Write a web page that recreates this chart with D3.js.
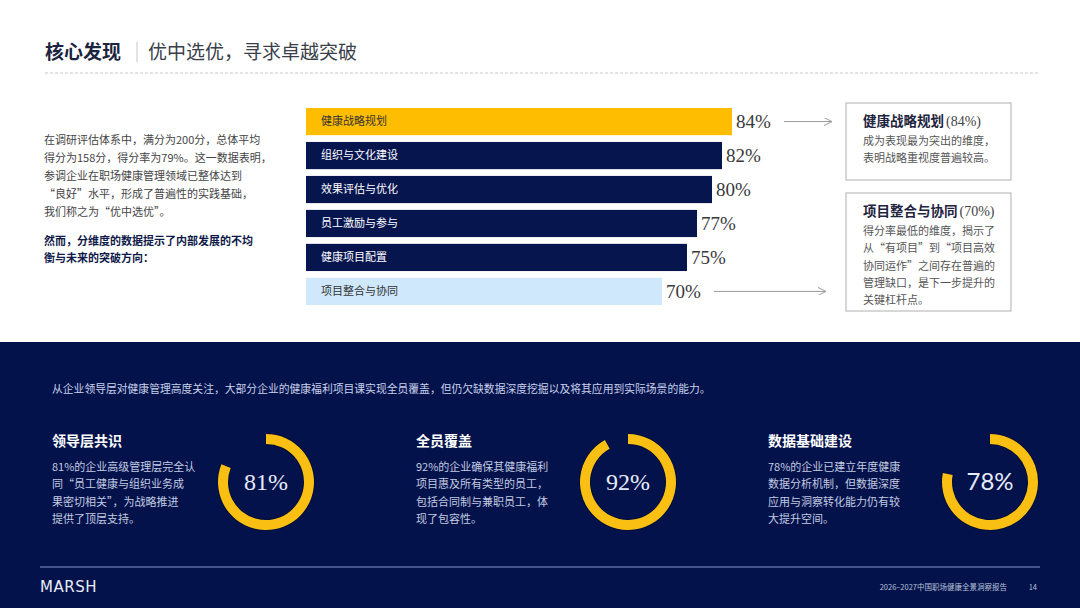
<!DOCTYPE html>
<html>
<head>
<meta charset="utf-8">
<script src="https://cdn.jsdelivr.net/npm/d3@7"></script>
<style>
  html, body { margin: 0; padding: 0; background: #fff; }
  svg { display: block; font-family: "Noto Sans CJK SC", "Noto Sans", sans-serif; }
</style>
</head>
<body>
<div id="chart"></div>
<script>
// dimension scores
const categories = ["健康战略规划", "组织与文化建设", "效果评估与优化", "员工激励与参与", "健康项目配置", "项目整合与协同"];
const scores = [84, 82, 80, 77, 75, 70];

// bottom ring indicators
const ringTitles = ["领导层共识", "全员覆盖", "数据基础建设"];
const ringValues = [81, 92, 78];
const ringTexts = [
    ["81%的企业高级管理层完全认", "同\u201c员工健康与组织业务成", "果密切相关\u201d，为战略推进", "提供了顶层支持。"],
    ["92%的企业确保其健康福利", "项目惠及所有类型的员工，", "包括合同制与兼职员工，体", "现了包容性。"],
    ["78%的企业已建立年度健康", "数据分析机制，但数据深度", "应用与洞察转化能力仍有较", "大提升空间。"]
];

const introLines = ["在调研评估体系中，满分为200分，总体平均", "得分为158分，得分率为79%。这一数据表明，", "参调企业在职场健康管理领域已整体达到", "\u201c良好\u201d水平，形成了普遍性的实践基础，", "我们称之为\u201c优中选优\u201d。"];
const boldLines = ["然而，分维度的数据提示了内部发展的不均", "衡与未来的突破方向："];
const noteTitles = ["健康战略规划", "项目整合与协同"];
const noteValues = [84, 70];
const noteLines = [
    ["成为表现最为突出的维度，", "表明战略重视度普遍较高。"],
    ["得分率最低的维度，揭示了", "从\u201c有项目\u201d到\u201c项目高效", "协同运作\u201d之间存在普遍的", "管理缺口，是下一步提升的", "关键杠杆点。"]
];
const summary = "从企业领导层对健康管理高度关注，大部分企业的健康福利项目课实现全员覆盖，但仍欠缺数据深度挖掘以及将其应用到实际场景的能力。";

const W = 1080, H = 608;
const navy = "#07154f", gold = "#ffbd00", lightBlue = "#cfe8fb";
const serif = "'Liberation Serif', 'DejaVu Serif', serif";

const svg = d3.select("#chart").append("svg")
    .attr("width", W).attr("height", H).attr("viewBox", `0 0 ${W} ${H}`);

// header
svg.append("text").attr("x", 45).attr("y", 59)
    .attr("font-size", 19).attr("font-weight", 700).attr("fill", "#1c2340").text("核心发现");
svg.append("line").attr("x1", 137).attr("x2", 137).attr("y1", 42).attr("y2", 62)
    .attr("stroke", "#c8c8c8").attr("stroke-width", 1);
svg.append("text").attr("x", 148).attr("y", 59)
    .attr("font-size", 19).attr("fill", "#3a3f4a").text("优中选优，寻求卓越突破");
svg.append("line").attr("x1", 45).attr("x2", 1040).attr("y1", 73).attr("y2", 73)
    .attr("stroke", "#c9c9c9").attr("stroke-dasharray", "3,2");

// intro text
svg.append("g").selectAll("text").data(introLines).enter().append("text")
    .attr("x", 44).attr("y", (d, i) => 144 + i * 18)
    .attr("font-size", 11).attr("fill", "#444").text(d => d);
svg.append("g").selectAll("text").data(boldLines).enter().append("text")
    .attr("x", 44).attr("y", (d, i) => 245 + i * 17)
    .attr("font-size", 11).attr("font-weight", 700).attr("fill", "#101a4a").text(d => d);

// bar chart
const barLeft = 306;
const x = d3.scaleLinear().domain([0, 100]).range([312, 812]);
const y = d3.scaleBand().domain(categories).range([108, 305]).paddingInner(0.2).paddingOuter(0);

const barFill = (d, i) => i === 0 ? gold : (i === categories.length - 1 ? lightBlue : navy);
const labelFill = (d, i) => (i === 0 || i === categories.length - 1) ? "#333" : "#fff";

const rows = svg.append("g").selectAll("g.row")
    .data(categories).enter().append("g").attr("class", "row");

rows.append("rect")
    .attr("x", barLeft)
    .attr("y", d => y(d))
    .attr("width", (d, i) => x(scores[i]) - barLeft)
    .attr("height", y.bandwidth())
    .attr("fill", barFill);

rows.append("text")
    .attr("x", barLeft + 15)
    .attr("y", d => y(d) + y.bandwidth() / 2)
    .attr("dy", "0.35em")
    .attr("font-size", 11)
    .attr("fill", labelFill)
    .text(d => d);

rows.append("text")
    .attr("x", (d, i) => x(scores[i]) + 4)
    .attr("y", d => y(d) + y.bandwidth() / 2)
    .attr("dy", "0.35em")
    .attr("font-family", serif)
    .attr("font-size", 19)
    .attr("fill", "#3a3a3a")
    .text((d, i) => scores[i] + "%");

// arrows to notes
const defs = svg.append("defs");
defs.append("marker").attr("id", "arr").attr("viewBox", "0 0 10 10")
    .attr("refX", 10).attr("refY", 5).attr("markerWidth", 8).attr("markerHeight", 8)
    .attr("orient", "auto").attr("markerUnits", "userSpaceOnUse")
    .append("path").attr("d", "M0,0L10,5L0,10").attr("fill", "none").attr("stroke", "#999").attr("stroke-width", 1.2);

const arrowRows = [0, categories.length - 1];
const arrowEnds = [832, 826];
arrowRows.forEach((r, k) => {
    const cy = y(categories[r]) + y.bandwidth() / 2;
    svg.append("line")
        .attr("x1", x(scores[r]) + 52).attr("x2", arrowEnds[k])
        .attr("y1", cy).attr("y2", cy)
        .attr("stroke", "#999").attr("stroke-width", 1)
        .attr("marker-end", "url(#arr)");
});

// note boxes
const boxes = [{ y: 103, h: 77 }, { y: 193, h: 118 }];
boxes.forEach((b, k) => {
    const g = svg.append("g").attr("transform", `translate(846,${b.y})`);
    g.append("rect").attr("width", 165).attr("height", b.h)
        .attr("fill", "#fff").attr("stroke", "#bdbdbd").attr("stroke-width", 1.2);
    const t = g.append("text").attr("x", 17).attr("y", 23).attr("font-size", 13.5).attr("fill", "#1e2440");
    t.append("tspan").attr("font-weight", 700).text(noteTitles[k]);
    t.append("tspan").attr("font-family", serif).attr("font-size", 14).attr("fill", "#444")
        .attr("dx", 2).text(`(${noteValues[k]}%)`);
    g.selectAll("text.line").data(noteLines[k]).enter().append("text")
        .attr("class", "line")
        .attr("x", 17).attr("y", (d, i) => 42 + i * 17.3)
        .attr("font-size", 11).attr("fill", "#555").text(d => d);
});

// dark panel
svg.append("rect").attr("x", 0).attr("y", 342).attr("width", W).attr("height", H - 342).attr("fill", "#03124a");

svg.append("text").attr("x", 52).attr("y", 393).attr("font-size", 10.8)
    .attr("fill", "#c9d1ec").text(summary);

const colX = [52, 416, 768];
const ringCx = [266, 628, 990];
const ringFonts = [serif, serif, "Lato, 'Open Sans', sans-serif"];
const arc = d3.arc().innerRadius(38).outerRadius(48).startAngle(0);
const ringBack = d3.arc().innerRadius(37).outerRadius(49).startAngle(0);

ringTitles.forEach((title, k) => {
    svg.append("text").attr("x", colX[k]).attr("y", 446)
        .attr("font-size", 14).attr("font-weight", 700).attr("fill", "#fff").text(title);
    svg.append("g").selectAll("text").data(ringTexts[k]).enter().append("text")
        .attr("x", colX[k]).attr("y", (d, i) => 471 + i * 17.3)
        .attr("font-size", 11).attr("fill", "#c4cbe2").text(d => d);

    const g = svg.append("g").attr("transform", `translate(${ringCx[k]},482)`);
    g.append("path")
        .attr("d", ringBack({ endAngle: ringValues[k] / 100 * 2 * Math.PI }))
        .attr("fill", "#000a30").attr("opacity", 0.6);
    g.append("path")
        .attr("d", arc({ endAngle: ringValues[k] / 100 * 2 * Math.PI }))
        .attr("fill", "#f9bf13");
    g.append("text").attr("text-anchor", "middle").attr("dy", "0.35em")
        .attr("font-family", ringFonts[k]).attr("font-size", 24)
        .attr("fill", "#e6ebfb").text(ringValues[k] + "%");
});

// footer
svg.append("line").attr("x1", 40).attr("x2", 1040).attr("y1", 567).attr("y2", 567)
    .attr("stroke", "#5b6aa0").attr("stroke-width", 1.3);
svg.append("text").attr("x", 40).attr("y", 592)
    .attr("font-family", "'DejaVu Sans', sans-serif").attr("font-size", 15)
    .attr("letter-spacing", 0.5).attr("fill", "#e8ecf8").text("MARSH");
svg.append("text").attr("x", 1007).attr("y", 590).attr("text-anchor", "end")
    .attr("font-size", 7.5).attr("fill", "#b9c1dc").text("2026–2027中国职场健康全景洞察报告");
svg.append("text").attr("x", 1037).attr("y", 590).attr("text-anchor", "end")
    .attr("font-size", 7.5).attr("fill", "#b9c1dc").text("14");
</script>
</body>
</html>
